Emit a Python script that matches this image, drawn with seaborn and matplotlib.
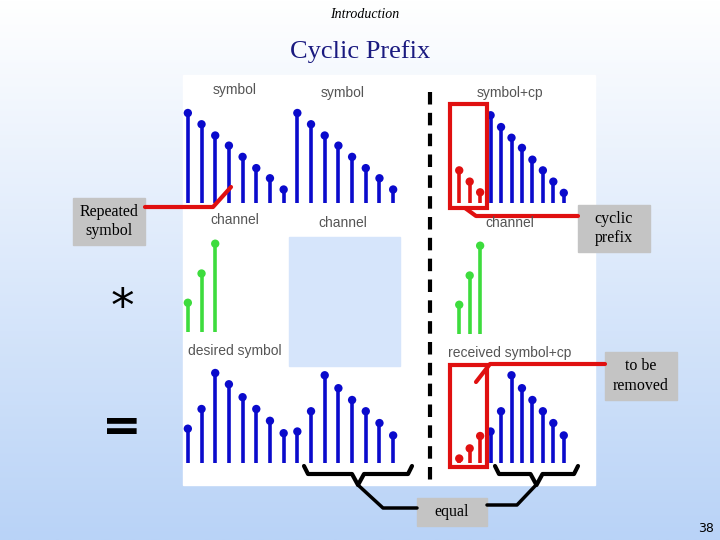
import numpy as np
import matplotlib
matplotlib.use("Agg")
import matplotlib.pyplot as plt
import seaborn as sns
from matplotlib.patches import Rectangle

sns.set_theme(style="white")

# data (heights)
symbol = [8.0, 7.0, 6.0, 5.1, 4.1, 3.1, 2.2, 1.2]
channel = [2.6, 5.2, 7.85]
desired = [3.05, 4.8, 8.0, 7.0, 5.85, 4.8, 3.75, 2.65,
           2.8, 4.6, 7.8, 6.65, 5.6, 4.6, 3.55, 2.45]
cp = [2.9, 1.9, 0.95]
sym_cp = [7.8, 6.75, 5.8, 4.9, 3.85, 2.9, 1.9, 0.9]
recv_cp = [0.4, 1.3, 2.4]
recv_sym = [2.8, 4.6, 7.8, 6.65, 5.6, 4.6, 3.55, 2.45]

BLUE, GREEN, RED = "#0a0acc", "#3ddc3d", "#e01010"
W, H = 720, 540
fig = plt.figure(figsize=(7.2, 5.4), dpi=100)

bg = fig.add_axes([0, 0, 1, 1], zorder=0)
bg.set_xlim(0, W); bg.set_ylim(H, 0); bg.axis("off")
grad = np.linspace(0, 1, 256)[:, None]
cmap = matplotlib.colors.LinearSegmentedColormap.from_list("g", ["#ffffff", "#b9d3f7"])
bg.imshow(grad, aspect="auto", cmap=cmap, extent=[0, W, H, 0], zorder=0)
bg.add_patch(Rectangle((183, 75), 412, 410, color="white", zorder=1))
bg.add_patch(Rectangle((289, 237), 111, 129, color="#d6e5fb", zorder=2))

def px_axes(x0, x1, base, unit=11.25, top=8.6):
    h = top * unit
    ax = fig.add_axes([x0 / W, 1 - base / H, (x1 - x0) / W, h / H], zorder=2)
    ax.set_ylim(0, top); ax.axis("off"); ax.patch.set_alpha(0)
    return ax

def stems(ax, xs, ys, color):
    ax.vlines(xs, 0, ys, color=color, lw=2.6)
    sns.scatterplot(x=xs, y=ys, ax=ax, color=color, s=36, edgecolor="none", legend=False)

# left column
ax = px_axes(181, 400, 203); ax.set_xlim(-0.5, 15.5)
stems(ax, np.arange(16), symbol + symbol, BLUE)
ax = px_axes(181, 400, 332); ax.set_xlim(-0.5, 15.5)
stems(ax, np.arange(3), channel, GREEN)
ax = px_axes(181, 400, 463); ax.set_xlim(-0.5, 15.5)
stems(ax, np.arange(16), desired, BLUE)
# right column
ax = px_axes(454, 569, 203); ax.set_xlim(-0.5, 10.5)
stems(ax, np.arange(3), cp, RED); stems(ax, np.arange(3, 11), sym_cp, BLUE)
ax = px_axes(454, 569, 334); ax.set_xlim(-0.5, 10.5)
stems(ax, np.arange(3), channel, GREEN)
ax = px_axes(454, 569, 463); ax.set_xlim(-0.5, 10.5)
stems(ax, np.arange(3), recv_cp, RED); stems(ax, np.arange(3, 11), recv_sym, BLUE)

ov = fig.add_axes([0, 0, 1, 1], zorder=5)
ov.set_xlim(0, W); ov.set_ylim(H, 0); ov.axis("off"); ov.patch.set_alpha(0)
gray = "#555555"
lab = dict(color=gray, fontsize=10, ha="center", va="center", family="Liberation Sans")
for (x, y, t) in [(235, 90, "symbol"), (343, 93, "symbol"), (510, 93, "symbol+cp"),
                  (235, 220, "channel"), (343, 223, "channel"), (510, 223, "channel"),
                  (235, 351, "desired symbol"), (510, 353, "received symbol+cp")]:
    ov.text(x, y, t, **lab)
ov.plot([430, 430], [92, 482], color="black", lw=3, ls=(0, (3, 2)))
ov.add_patch(Rectangle((450, 104), 37, 104, fill=False, ec=RED, lw=3))
ov.add_patch(Rectangle((450, 365), 37, 102, fill=False, ec=RED, lw=3))
ov.plot([465, 476, 578], [208, 216, 216], color=RED, lw=3)
ov.plot([145, 213, 231], [207, 207, 187], color=RED, lw=3)
ov.plot([605, 490, 476], [364, 364, 382], color=RED, lw=3)

serif = "Liberation Serif"
boxes = [(73, 198, 72, 47, "Repeated\nsymbol"), (578, 205, 72, 47, "cyclic\nprefix"),
         (605, 352, 72, 48, "to be\nremoved"), (417, 498, 70, 28, "equal")]
for (x, y, w, h, t) in boxes:
    ov.add_patch(Rectangle((x, y), w, h, color="#c4c4c4", zorder=1))
    ov.text(x + w / 2, y + h / 2, t, ha="center", va="center", fontsize=11.5,
            family=serif, color="black", linespacing=1.3)

def brace(x0, x1, y, ytip):
    xm = (x0 + x1) / 2
    ov.plot([x0, x0 + 4, xm - 6, xm, xm + 6, x1 - 4, x1],
            [y, y + 8, y + 8, ytip, y + 8, y + 8, y], color="black", lw=3,
            solid_joinstyle="round")
brace(304, 412, 466, 485)
brace(495, 578, 466, 485)
ov.plot([358, 383, 417], [485, 508, 508], color="black", lw=2.5)
ov.plot([536, 517, 487], [485, 505, 505], color="black", lw=2.5)

ov.text(365, 14, "Introduction", ha="center", va="center", fontsize=10, style="italic", family=serif, color="black")
ov.text(360, 52, "Cyclic Prefix", ha="center", va="center", fontsize=19, family=serif, color="#1a1a80")
ov.text(122, 308, "*", ha="center", va="center", fontsize=34, family="DejaVu Sans", color="black")
ov.text(122, 428, "=", ha="center", va="center", fontsize=34, fontweight="bold", family="DejaVu Sans", color="black")
ov.text(706, 528, "38", ha="center", va="center", fontsize=9, family="DejaVu Sans", color="black")

fig.savefig("out.png", dpi=100)
